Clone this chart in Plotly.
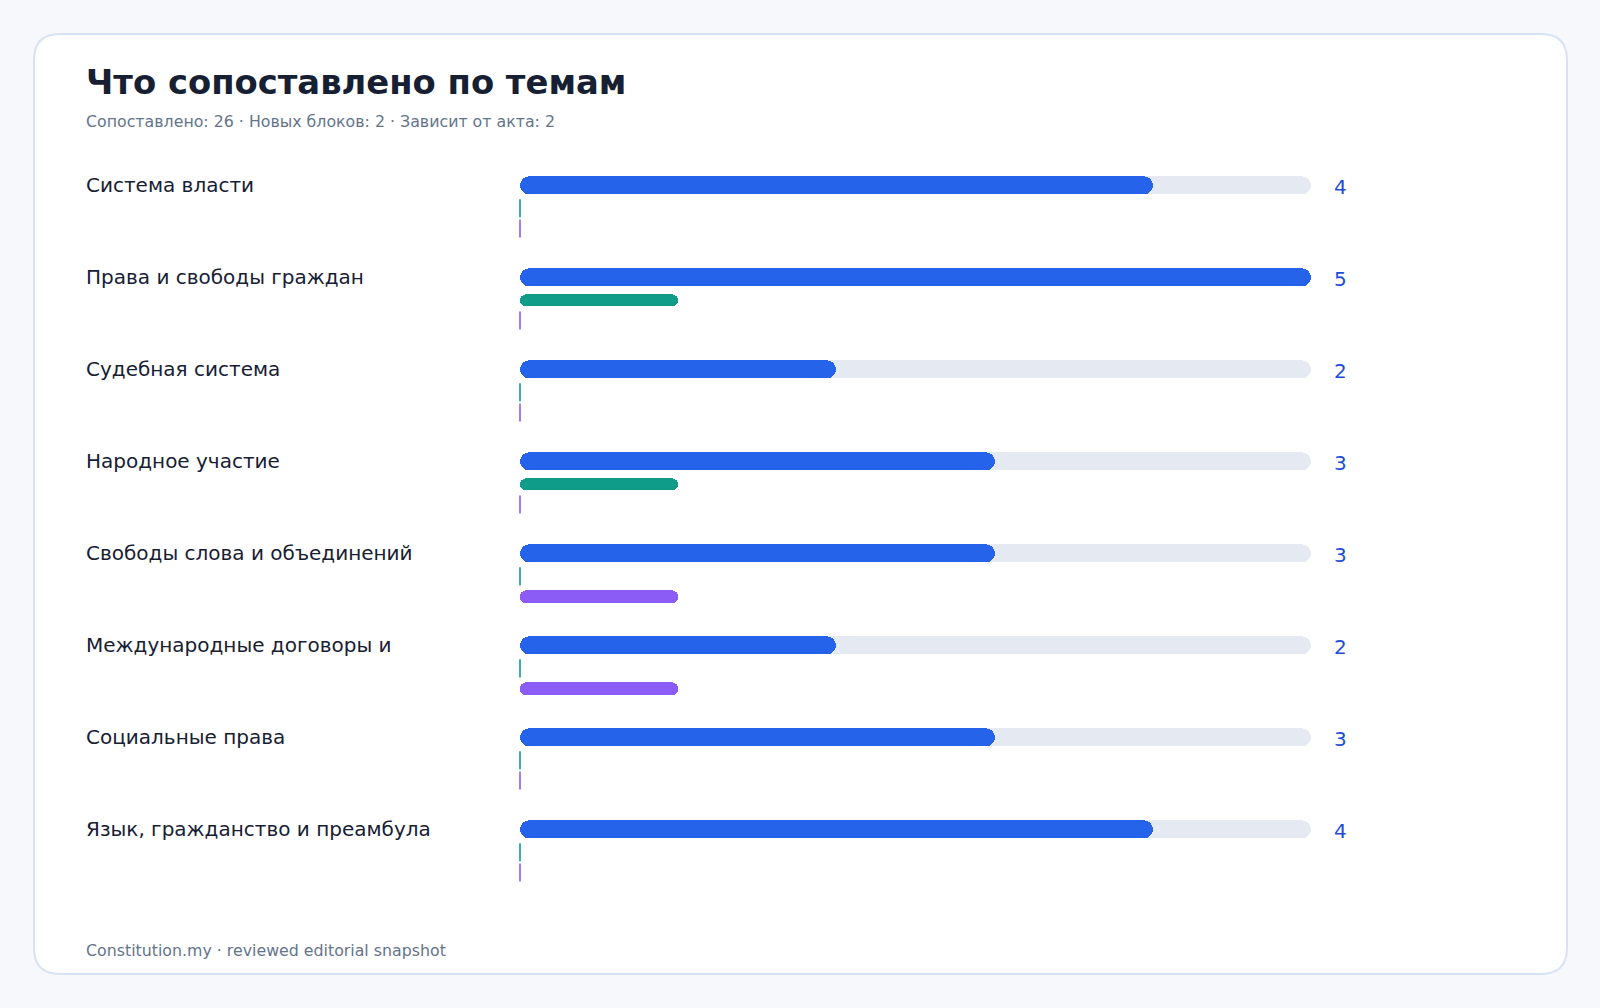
import plotly.graph_objects as go

W, H = 1600, 1008

topics = [
    "Система власти",
    "Права и свободы граждан",
    "Судебная система",
    "Народное участие",
    "Свободы слова и объединений",
    "Международные договоры и",
    "Социальные права",
    "Язык, гражданство и преамбула",
]
matched = [4, 5, 2, 3, 3, 2, 3, 4]
new_blocks = [0, 1, 0, 1, 0, 0, 0, 0]
act_dependent = [0, 0, 0, 0, 1, 1, 0, 0]

title = "Что сопоставлено по темам"
subtitle = (f"Сопоставлено: {sum(matched)} · Новых блоков: {sum(new_blocks)}"
            f" · Зависит от акта: {sum(act_dependent)}")
footer = "Constitution.my · reviewed editorial snapshot"

BLUE = "#2563eb"
TEAL = "#0f9d8a"
VIOLET = "#8b5cf6"
TRACK = "#e5e9f2"
FONT = "DejaVu Sans"

# pixel layout (row pitch = 92px -> 1 y unit)
PITCH = 92.0
ROW0 = 185.3
MAIN_T = 18.7 / PITCH
SUB_T = 12.7 / PITCH
TEAL_OFF = 23.0 / PITCH
VIOLET_OFF = 43.2 / PITCH
TEXT_X = 84


def fx(px):
    return px / W


def fy(py):
    return 1 - py / H


def pill(values, ys, color, thick, radius):
    # two overlapping halves so that both ends get rounded corners
    vals = [v for v in values if v > 0]
    yy = [y for v, y in zip(values, ys) if v > 0]
    a = [v / 3 for v in vals]
    b = [2 * v / 3 for v in vals]
    common = dict(orientation="h", y=yy, width=thick, hoverinfo="skip", showlegend=False,
                  marker=dict(color=color, cornerradius=radius, line=dict(width=0)))
    right = go.Bar(x=[v - s for v, s in zip(vals, a)], base=a, **common)
    left = go.Bar(x=[-s for s in b], base=b, **common)
    return [right, left]


def zero_ticks(values, ys, color):
    xx = [v for v in values if v == 0]
    yy = [y for v, y in zip(values, ys) if v == 0]
    return go.Scatter(x=xx, y=yy, mode="markers", cliponaxis=False, hoverinfo="skip",
                      showlegend=False,
                      marker=dict(symbol="line-ns", size=13, line=dict(color=color, width=1.6)))


rows = list(range(len(topics)))
full = max(matched)
teal_rows = [r + TEAL_OFF for r in rows]
violet_rows = [r + VIOLET_OFF for r in rows]

traces = []
traces += pill([full] * len(rows), rows, TRACK, MAIN_T, 9)
traces += pill(matched, rows, BLUE, MAIN_T, 9)
traces += pill(new_blocks, teal_rows, TEAL, SUB_T, 6)
traces += pill(act_dependent, violet_rows, VIOLET, SUB_T, 6)
traces.append(zero_ticks(new_blocks, teal_rows, TEAL))
traces.append(zero_ticks(act_dependent, violet_rows, VIOLET))

fig = go.Figure(data=traces)

# card with rounded corners
x0, x1, y0, y1, r = 34, 1567, 34, 974, 26
card = (f"M {fx(x0 + r)},{fy(y0)} L {fx(x1 - r)},{fy(y0)} Q {fx(x1)},{fy(y0)} {fx(x1)},{fy(y0 + r)} "
        f"L {fx(x1)},{fy(y1 - r)} Q {fx(x1)},{fy(y1)} {fx(x1 - r)},{fy(y1)} "
        f"L {fx(x0 + r)},{fy(y1)} Q {fx(x0)},{fy(y1)} {fx(x0)},{fy(y1 - r)} "
        f"L {fx(x0)},{fy(y0 + r)} Q {fx(x0)},{fy(y0)} {fx(x0 + r)},{fy(y0)} Z")

annotations = [
    dict(text=f"<b>{title}</b>", x=fx(TEXT_X - 0.5), y=fy(82.5), xref="paper", yref="paper",
         xanchor="left", yanchor="middle", showarrow=False,
         font=dict(family=FONT, size=33.8, color="#172033")),
    dict(text=subtitle, x=fx(TEXT_X), y=fy(121.5), xref="paper", yref="paper",
         xanchor="left", yanchor="middle", showarrow=False,
         font=dict(family=FONT, size=15.8, color="#64748b")),
    dict(text=footer, x=fx(TEXT_X), y=fy(950), xref="paper", yref="paper",
         xanchor="left", yanchor="middle", showarrow=False,
         font=dict(family=FONT, size=15.8, color="#64748b")),
]
for r_, name, v in zip(rows, topics, matched):
    annotations.append(dict(text=name, x=fx(TEXT_X), y=r_, xref="paper", yref="y",
                            xanchor="left", yanchor="middle", showarrow=False,
                            font=dict(family=FONT, size=20, color="#172033")))
    annotations.append(dict(text=str(v), x=fx(1332), y=r_, xref="paper", yref="y",
                            xanchor="left", yanchor="middle", showarrow=False, yshift=-2,
                            font=dict(family=FONT, size=20, color="#1d4ed8")))

y_top, y_bot = -1.0, 8.5
fig.update_layout(
    width=W, height=H,
    margin=dict(l=0, r=0, t=0, b=0, pad=0),
    paper_bgcolor="#f6f8fc",
    plot_bgcolor="rgba(0,0,0,0)",
    barmode="overlay",
    bargap=0,
    showlegend=False,
    xaxis=dict(domain=[fx(520), fx(1311)], range=[0, full], visible=False, fixedrange=True),
    yaxis=dict(domain=[fy(ROW0 + PITCH * y_bot), fy(ROW0 + PITCH * y_top)],
               range=[y_bot, y_top], visible=False, fixedrange=True),
    shapes=[dict(type="path", path=card, xref="paper", yref="paper", layer="below",
                 fillcolor="#ffffff", line=dict(color="#d8e2f5", width=2))],
    annotations=annotations,
)

fig.write_html("out.html", post_script="document.body.style.margin='0';",
               config={"displayModeBar": False})
